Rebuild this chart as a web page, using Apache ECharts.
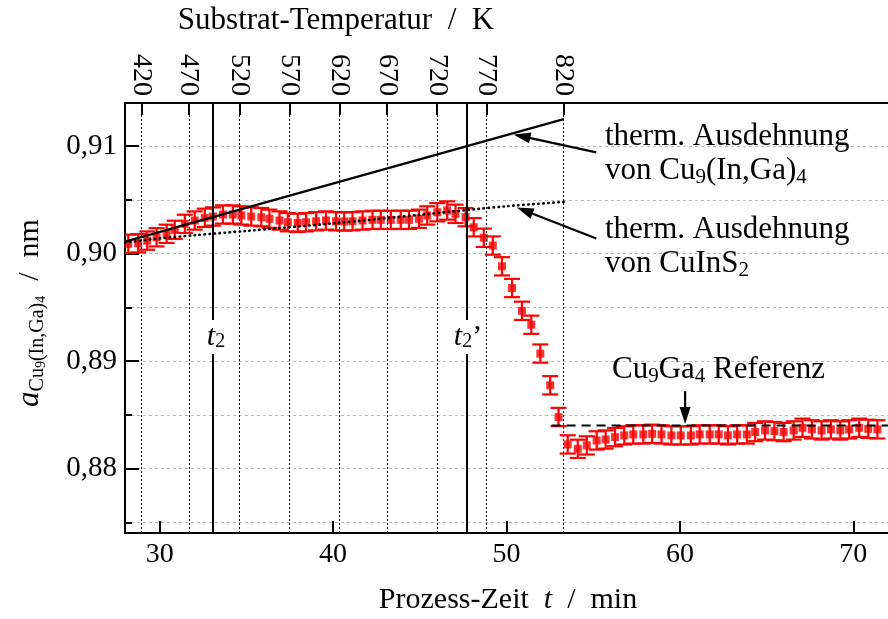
<!DOCTYPE html>
<html><head><meta charset="utf-8">
<script src="https://cdn.jsdelivr.net/npm/echarts@6/dist/echarts.min.js"></script>
<style>html,body{margin:0;padding:0;background:#fff}#c{width:888px;height:619px}</style>
</head><body><div id="c"></div>
<script>
// ---- data ----
const timeMin = [
 28.19,28.76,29.28,29.82,30.40,30.87,31.45,32.02,32.60,33.07,
 33.65,34.22,34.71,35.28,35.86,36.33,36.91,37.39,37.96,38.44,
 39.02,39.59,40.17,40.64,41.12,41.70,42.27,42.75,43.33,43.90,
 44.38,44.95,45.43,46.01,46.58,47.06,47.64,48.11,48.69,49.21,
 49.74,50.32,50.89,51.43,51.95,52.52,53.00,53.53,54.11,54.63,
 55.20,55.72,56.26,56.79,57.31,57.89,58.40,58.94,59.51,60.05,
 60.63,61.14,61.72,62.24,62.77,63.30,63.86,64.34,64.91,65.45,
 65.98,66.56,67.07,67.61,68.17,68.71,69.25,69.76,70.34,70.86,
 71.39];
const latticeNm = [
 0.90090,0.90095,0.90120,0.90151,0.90183,0.90220,0.90276,0.90307,0.90332,0.90344,
 0.90363,0.90363,0.90354,0.90344,0.90338,0.90323,0.90307,0.90291,0.90285,0.90291,
 0.90300,0.90307,0.90300,0.90298,0.90300,0.90307,0.90313,0.90313,0.90313,0.90313,
 0.90313,0.90323,0.90354,0.90384,0.90400,0.90369,0.90338,0.90244,0.90146,0.90074,
 0.89881,0.89679,0.89467,0.89337,0.89069,0.88774,0.88479,0.88224,0.88183,0.88215,
 0.88261,0.88270,0.88292,0.88308,0.88317,0.88317,0.88323,0.88317,0.88308,0.88308,
 0.88308,0.88317,0.88317,0.88317,0.88308,0.88317,0.88317,0.88339,0.88354,0.88348,
 0.88339,0.88354,0.88379,0.88364,0.88354,0.88364,0.88354,0.88364,0.88379,0.88369,
 0.88364];
const errNm = 0.00085;
const tempLabels = [420, 470, 520, 570, 620, 670, 720, 770, 820];
const tempTimes  = [28.96, 31.68, 34.61, 37.48, 40.36, 43.11, 45.99, 48.86, 53.29];
const t2Times = [33.06, 47.71];
const thermCuInGa = [[28, 0.9011], [53.3, 0.9125]];
const thermCuInS2 = [[28, 0.9010], [30, 0.9014], [32, 0.9017], [35, 0.9021], [40, 0.9028], [45, 0.9036], [50, 0.9044], [53.3, 0.9048]];
const refCu9Ga4 = [[52.6, 0.8840], [72, 0.8840]];
const arrows = [[55.18, 0.90941, 50.41, 0.91108], [55.18, 0.90139, 50.59, 0.90428], [60.3, 0.88720, 60.3, 0.88413]];

// ---- chart ----
const F = "'Liberation Serif', 'Times New Roman', serif";
const chart = echarts.init(document.getElementById('c'), null, {renderer: 'canvas'});
const black = '#000';
const gridLine = {show: true, lineStyle: {color: '#b8b8b8', type: [3, 3], width: 1}};

const option = {
  animation: false,
  grid: {left: 125, right: -3, top: 103, bottom: 86, containLabel: false},
  xAxis: [{
    type: 'value', position: 'bottom', min: 28, max: 72,
    axisLine: {show: true, onZero: false, lineStyle: {color: black, width: 2}},
    axisTick: {show: true, inside: true, length: 12, lineStyle: {color: black, width: 2}},
    splitLine: {show: false},
    axisLabel: {fontFamily: F, fontSize: 28, color: black, margin: 8, showMinLabel: false, showMaxLabel: false}
  }, {
    type: 'value', position: 'top', min: 28, max: 72,
    axisLine: {show: true, onZero: false, lineStyle: {color: black, width: 2}},
    axisTick: {show: true, inside: true, length: 12, customValues: tempTimes, lineStyle: {color: black, width: 2}},
    splitLine: {show: false},
    axisLabel: {customValues: tempTimes, rotate: 90, fontFamily: F, fontSize: 28, color: black, margin: 7,
      formatter: v => { const i = tempTimes.findIndex(t => Math.abs(t - v) < 1e-6); return i >= 0 ? String(tempLabels[i]) : ''; }}
  }],
  yAxis: [{
    type: 'value', min: 0.874, max: 0.914,
    axisLine: {show: true, onZero: false, lineStyle: {color: black, width: 2}},
    axisTick: {show: true, inside: true, length: 14, lineStyle: {color: black, width: 2}},
    minorTick: {show: true, splitNumber: 2, length: 7, lineStyle: {color: black, width: 2}},
    splitLine: gridLine,
    minorSplitLine: gridLine,
    axisLabel: {fontFamily: F, fontSize: 29, color: black, margin: 8, showMinLabel: false, showMaxLabel: false,
      formatter: v => v.toFixed(2).replace('.', ',')}
  }],
  series: [
    { // temperature guide lines
      type: 'line', data: [], silent: true, z: 1,
      markLine: {silent: true, symbol: ['none', 'none'], label: {show: false}, animation: false,
        lineStyle: {color: '#111', type: [2, 2], width: 1},
        data: tempTimes.map(t => ({xAxis: t}))}
    },
    { // t2, t2'
      type: 'line', data: [], silent: true, z: 6,
      markLine: {silent: true, symbol: ['none', 'none'], label: {show: false}, animation: false,
        lineStyle: {color: black, type: 'solid', width: 2},
        data: t2Times.map(t => ({xAxis: t}))}
    },
    { // error bars
      type: 'custom', z: 3, clip: true,
      data: timeMin.map((t, i) => [t, latticeNm[i] - errNm, latticeNm[i] + errNm]),
      encode: {x: 0, y: [1, 2]},
      renderItem: (params, api) => {
        const t = api.value(0);
        const p1 = api.coord([t, api.value(1)]), p2 = api.coord([t, api.value(2)]);
        const w = 8, st = {stroke: '#ff0000', lineWidth: 2.2, fill: null};
        return {type: 'group', children: [
          {type: 'line', shape: {x1: p1[0], y1: p1[1], x2: p2[0], y2: p2[1]}, style: st},
          {type: 'line', shape: {x1: p1[0] - w, y1: p1[1], x2: p1[0] + w, y2: p1[1]}, style: st},
          {type: 'line', shape: {x1: p2[0] - w, y1: p2[1], x2: p2[0] + w, y2: p2[1]}, style: st}
        ]};
      }
    },
    { // measured points
      type: 'scatter', z: 4, symbol: 'rect', symbolSize: 8,
      itemStyle: {color: '#ff0000'},
      data: timeMin.map((t, i) => [t, latticeNm[i]])
    },
    { type: 'line', z: 5, data: thermCuInGa, showSymbol: false, symbol: 'none',
      lineStyle: {color: black, width: 2.2} },
    { type: 'line', z: 5, data: thermCuInS2, showSymbol: false, symbol: 'none', smooth: 0.3,
      lineStyle: {color: black, width: 2.6, type: [0.5, 4.5], cap: 'round'} },
    { type: 'line', z: 5, data: refCu9Ga4, showSymbol: false, symbol: 'none',
      lineStyle: {color: black, width: 2.2, type: [9, 6]} },
    { // arrows
      type: 'custom', z: 7, clip: false,
      data: arrows, encode: {x: [0, 2], y: [1, 3]},
      renderItem: (params, api) => {
        const a = api.coord([api.value(0), api.value(1)]);
        const b = api.coord([api.value(2), api.value(3)]);
        const dx = b[0] - a[0], dy = b[1] - a[1], L = Math.hypot(dx, dy);
        const ux = dx / L, uy = dy / L, hl = 17, hw = 5.5;
        const bx = b[0] - ux * hl, by = b[1] - uy * hl;
        return {type: 'group', children: [
          {type: 'line', shape: {x1: a[0], y1: a[1], x2: bx + ux * 2, y2: by + uy * 2}, style: {stroke: black, lineWidth: 2.2}},
          {type: 'polygon', shape: {points: [[b[0], b[1]], [bx - uy * hw, by + ux * hw], [bx + uy * hw, by - ux * hw]]}, style: {fill: black}}
        ]};
      }
    }
  ],
  graphic: [
    {type: 'text', x: 336, y: 21, style: {
      text: '{r|Substrat-Temperatur  /  K}', fill: black, align: 'center', verticalAlign: 'middle',
      rich: {r: {fontFamily: F, fontSize: 31}}}},
    {type: 'text', x: 508, y: 600, style: {
      text: '{r|Prozess-Zeit  }{i|t}{r|  /  min}', fill: black, align: 'center', verticalAlign: 'middle',
      rich: {r: {fontFamily: F, fontSize: 30}, i: {fontFamily: F, fontSize: 30, fontStyle: 'italic'}}}},
    {type: 'text', x: 30, y: 313, rotation: Math.PI / 2, style: {
      text: '{a|a}{s|Cu}{ss|9}{s|(In,Ga)}{ss|4}{r|  /  nm}', fill: black, align: 'center', verticalAlign: 'middle',
      rich: {
        a: {fontFamily: F, fontSize: 31, fontStyle: 'italic', lineHeight: 36, verticalAlign: 'middle'},
        r: {fontFamily: F, fontSize: 30, lineHeight: 36, verticalAlign: 'middle'},
        s: {fontFamily: F, fontSize: 20, lineHeight: 20, verticalAlign: 'bottom'},
        ss: {fontFamily: F, fontSize: 14, lineHeight: 8, verticalAlign: 'bottom'}
      }}},
    ...[
      {x: 605, y: 137, t: '{r|therm. Ausdehnung}'},
      {x: 605, y: 171, t: '{r|von Cu}{s|9}{r|(In,Ga)}{s|4}'},
      {x: 605, y: 230, t: '{r|therm. Ausdehnung}'},
      {x: 605, y: 264, t: '{r|von CuInS}{s|2}'},
      {x: 612, y: 370, t: '{r|Cu}{s|9}{r|Ga}{s|4}{r| Referenz}'}
    ].map(o => ({type: 'text', x: o.x, y: o.y, z: 100, style: {
      text: o.t, fill: black, align: 'left', verticalAlign: 'middle',
      rich: {r: {fontFamily: F, fontSize: 31, lineHeight: 34, verticalAlign: 'middle'},
             s: {fontFamily: F, fontSize: 21, lineHeight: 20, verticalAlign: 'bottom'}}}})),
    ...[
      {x: 216, y: 337, t: '{i|t}{s|2}'},
      {x: 468, y: 337, t: '{i|t}{s|2}{p|’}'}
    ].map(o => ({type: 'text', x: o.x, y: o.y, z: 100, style: {
      text: o.t, fill: black, align: 'center', verticalAlign: 'middle', backgroundColor: '#fff', padding: [2, 2, 2, 2],
      rich: {i: {fontFamily: F, fontSize: 30, fontStyle: 'italic', lineHeight: 30, verticalAlign: 'middle'},
             p: {fontFamily: F, fontSize: 30, lineHeight: 30, verticalAlign: 'middle'},
             s: {fontFamily: F, fontSize: 20, lineHeight: 20, verticalAlign: 'bottom'}}}}))
  ]
};
chart.setOption(option);
</script>
</body></html>
